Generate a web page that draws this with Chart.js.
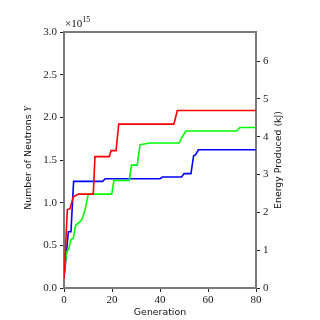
<!DOCTYPE html>
<html>
<head>
<meta charset="utf-8">
<script src="https://cdn.jsdelivr.net/npm/chart.js@4/dist/chart.umd.min.js"></script>
<style>
  html, body { margin: 0; padding: 0; background: #fff; }
  #wrap { width: 320px; height: 320px; }
</style>
</head>
<body>
<div id="wrap"><canvas id="chart" width="320" height="320"></canvas></div>
<script>
// neutron counts in units of 1e15
const redGen = [0, 1.4, 2.5, 3.9, 5.3, 6, 12.2, 12.9, 18.9, 19.6, 21.7, 22.8, 45.8, 47.2, 80];
const redY   = [0.11, 0.92, 0.93, 1.07, 1.09, 1.10, 1.10, 1.54, 1.54, 1.61, 1.61, 1.92, 1.92, 2.08, 2.08];

const greenGen = [0, 1.2, 1.9, 2.9, 3.9, 4.9, 6, 7.4, 8.75, 10.1, 19.9, 20.8, 27.2, 28.1, 30.5, 31.7, 34, 35.8, 48, 49, 50.8, 72, 73.3, 80];
const greenY   = [0.2, 0.43, 0.45, 0.57, 0.58, 0.74, 0.76, 0.80, 0.91, 1.10, 1.10, 1.26, 1.26, 1.44, 1.44, 1.68, 1.69, 1.70, 1.70, 1.76, 1.84, 1.84, 1.88, 1.88];

const blueGen = [0, 0.5, 1.8, 2.9, 4.0, 16.1, 17.2, 40, 41, 49, 50, 52.9, 54, 54.8, 56, 80];
const blueY   = [0.12, 0.25, 0.66, 0.66, 1.25, 1.25, 1.28, 1.28, 1.30, 1.30, 1.34, 1.34, 1.55, 1.56, 1.62, 1.62];

const xTicks = [0, 20, 40, 60, 80];
const yMax = 3.0;
const energyMax = 6.77;   // kJ at top of left axis

const serif = "'Liberation Serif', 'DejaVu Serif', serif";
const sans = "'DejaVu Sans', sans-serif";
const titleSize = 9.4;

function pts(xs, ys) {
    return xs.map((x, i) => ({ x: x, y: ys[i] }));
}

function line(label, xs, ys, color) {
    return {
        label: label,
        data: pts(xs, ys),
        borderColor: color,
        borderWidth: 1.6,
        pointRadius: 0,
        tension: 0,
        fill: false,
        yAxisID: 'y'
    };
}

// extra labels: right title (reads upward), left title with italic Y, exponent
const labelsPlugin = {
    id: 'labels',
    afterDraw(chart) {
        const ctx = chart.ctx;
        const a = chart.chartArea;
        ctx.save();
        ctx.fillStyle = '#111';

        ctx.font = "11px " + serif;
        ctx.textAlign = 'left';
        ctx.textBaseline = 'alphabetic';
        ctx.fillText('\u00d710', a.left + 1, a.top - 5);
        const w = ctx.measureText('\u00d710').width;
        ctx.font = "8px " + serif;
        ctx.fillText('15', a.left + 1 + w, a.top - 10);

        // left title
        const f1 = titleSize + "px " + sans;
        const f2 = "italic " + titleSize + "px " + serif;
        ctx.font = f1;
        const t1 = 'Number of Neutrons ';
        const w1 = ctx.measureText(t1).width;
        ctx.font = f2;
        const w2 = ctx.measureText('Y').width;
        ctx.translate(29, 158);
        ctx.rotate(-Math.PI / 2);
        ctx.textBaseline = 'middle';
        ctx.font = f1;
        ctx.fillText(t1, -(w1 + w2) / 2, 0);
        ctx.font = f2;
        ctx.fillText('Y', -(w1 + w2) / 2 + w1, 0);
        ctx.restore();

        ctx.save();
        ctx.fillStyle = '#111';
        ctx.font = titleSize + "px " + sans;
        ctx.translate(279, 160);
        ctx.rotate(-Math.PI / 2);
        ctx.textAlign = 'center';
        ctx.textBaseline = 'middle';
        ctx.fillText('Energy Produced (kJ)', 0, 0);
        ctx.restore();
    }
};

const tickGrid = {
    display: true,
    drawOnChartArea: false,
    drawTicks: true,
    tickLength: 4,
    tickColor: '#222',
    tickWidth: 1
};
const frame = { display: true, color: '#7a7a7a', width: 2 };

new Chart(document.getElementById('chart'), {
    type: 'line',
    data: {
        datasets: [
            line('red', redGen, redY, '#ff0000'),
            line('green', greenGen, greenY, '#00ff00'),
            line('blue', blueGen, blueY, '#0000ff')
        ]
    },
    options: {
        responsive: false,
        animation: false,
        layout: { padding: 0 },
        plugins: { legend: { display: false }, tooltip: { enabled: false } },
        scales: {
            x: {
                type: 'linear',
                position: 'bottom',
                min: 0, max: 80,
                afterBuildTicks: s => { s.ticks = xTicks.map(v => ({ value: v })); },
                afterFit: s => { s.height = 32; },
                ticks: { color: '#222', font: { family: serif, size: 11 }, padding: 2, maxRotation: 0 },
                grid: tickGrid,
                border: frame,
                title: { display: true, text: 'Generation', color: '#111', font: { family: sans, size: titleSize }, padding: { top: 0, bottom: 2 } }
            },
            xTop: {
                type: 'linear',
                position: 'top',
                min: 0, max: 80,
                afterFit: s => { s.height = 32; },
                ticks: { display: false },
                grid: { display: false, drawTicks: false },
                border: frame
            },
            y: {
                type: 'linear',
                position: 'left',
                min: 0, max: yMax,
                afterFit: s => { s.width = 64; },
                ticks: {
                    stepSize: 0.5,
                    color: '#222',
                    font: { family: serif, size: 11 },
                    padding: 3,
                    callback: v => v.toFixed(1)
                },
                grid: tickGrid,
                border: frame
            },
            energy: {
                type: 'linear',
                position: 'right',
                min: 0, max: energyMax,
                afterFit: s => { s.width = 64; },
                ticks: {
                    stepSize: 1,
                    includeBounds: false,
                    color: '#222',
                    font: { family: serif, size: 11 },
                    padding: 3
                },
                grid: tickGrid,
                border: frame
            }
        }
    },
    plugins: [labelsPlugin]
});
</script>
</body>
</html>
